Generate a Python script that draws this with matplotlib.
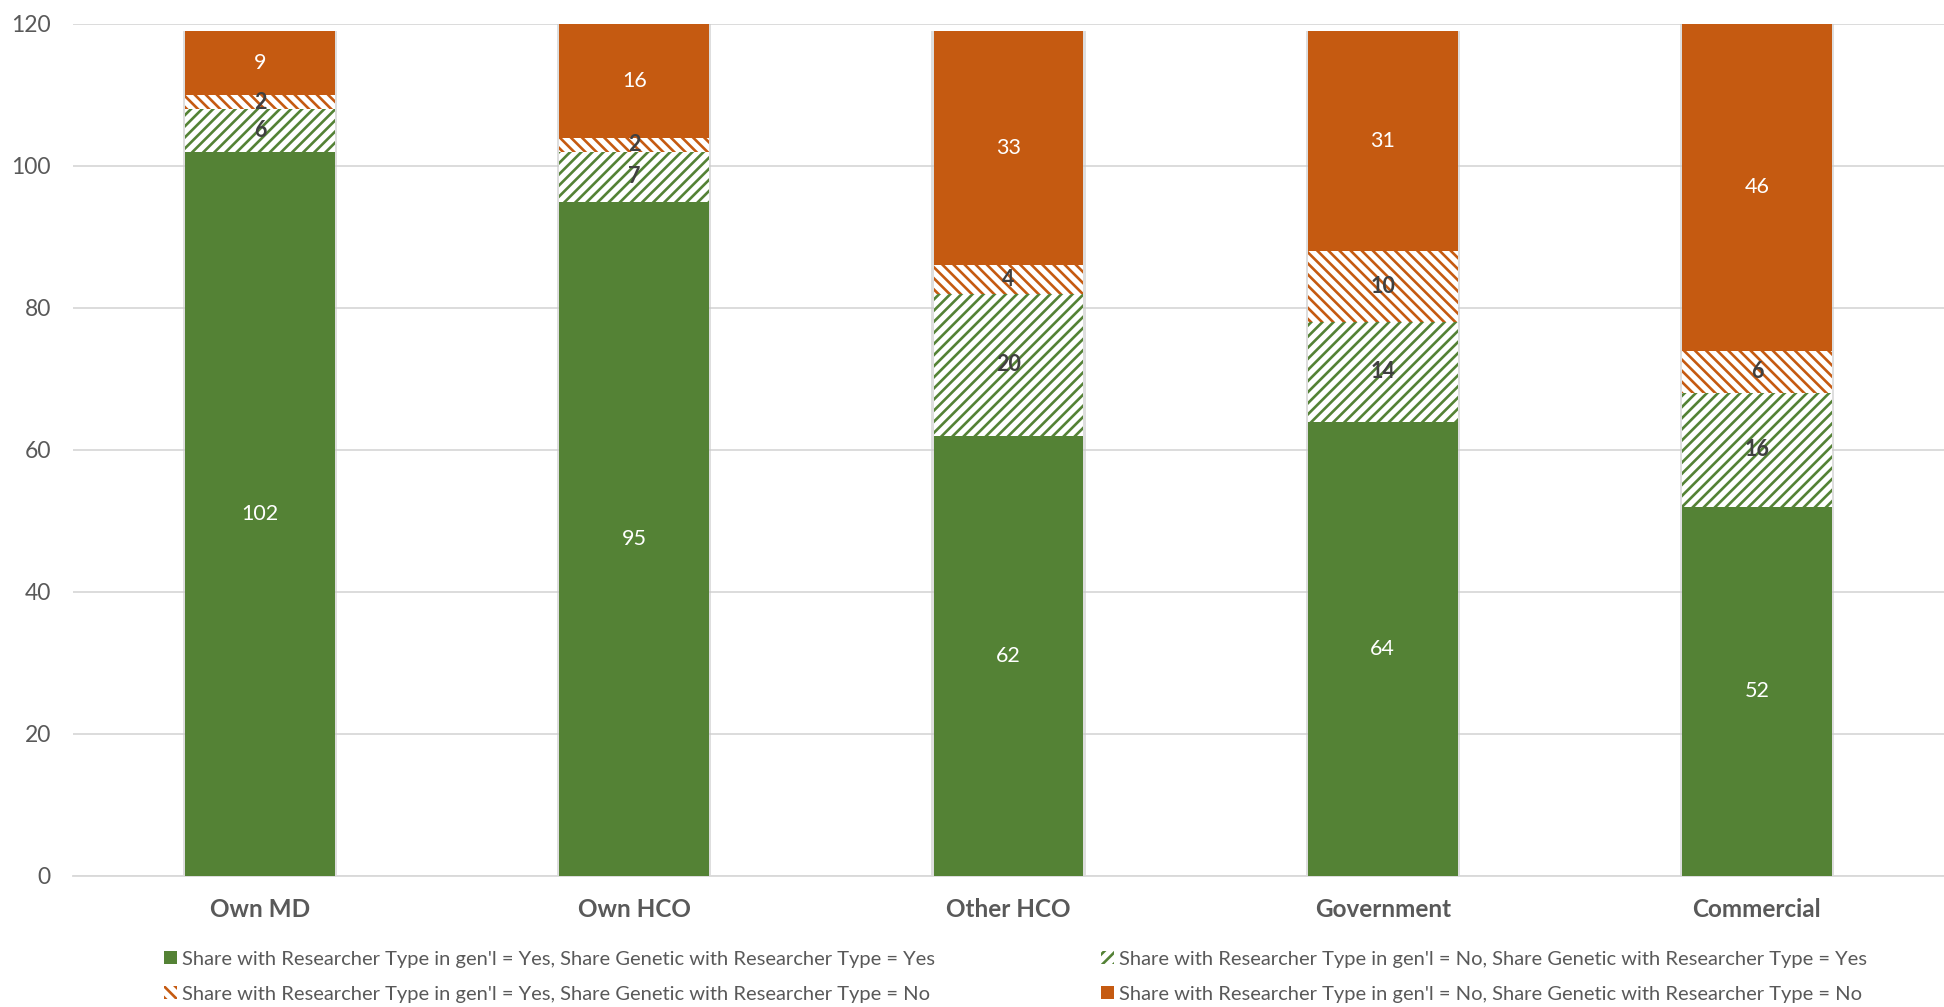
import numpy as np
import matplotlib
matplotlib.use("Agg")
import matplotlib.pyplot as plt
from matplotlib.patches import Patch

plt.rcParams['font.family'] = ['Lato', 'DejaVu Sans']
plt.rcParams['hatch.linewidth'] = 1.9

categories = ['Own MD', 'Own HCO', 'Other HCO', 'Government', 'Commercial']

# stacked from the bottom up
yes_yes = [102, 95, 62, 64, 52]
no_yes = [6, 7, 20, 14, 16]
yes_no = [2, 2, 4, 10, 6]
no_no = [9, 16, 33, 31, 46]

series_names = [
    "Share with Researcher Type in gen'l = Yes, Share Genetic with Researcher Type = Yes",
    "Share with Researcher Type in gen'l = No, Share Genetic with Researcher Type = Yes",
    "Share with Researcher Type in gen'l = Yes, Share Genetic with Researcher Type = No",
    "Share with Researcher Type in gen'l = No, Share Genetic with Researcher Type = No",
]

green = '#548235'
orange = '#C55A11'
text_gray = '#595959'

fig = plt.figure(figsize=(19.44, 10.07), dpi=100)
ax = fig.add_axes([73 / 1944, 1 - 876 / 1007, 1 - 73 / 1944, (876 - 24) / 1007])

x = np.arange(len(categories))
w = 0.4

series = [yes_yes, no_yes, yes_no, no_no]
styles = [
    dict(color=green, hatch=None),
    dict(color=green, hatch='///'),
    dict(color=orange, hatch='\\\\\\'),
    dict(color=orange, hatch=None),
]

totals = np.sum(series, axis=0)
# soft shadow behind each column
ax.bar(x, totals, width=w + 0.012, color='#c8c8c8', alpha=0.6, zorder=2, linewidth=0)

bottom = np.zeros(len(categories))
for vals, st in zip(series, styles):
    vals = np.array(vals)
    if st['hatch'] is None:
        ax.bar(x, vals, width=w, bottom=bottom, color=st['color'], linewidth=0, zorder=3)
        lab = dict(color='white', fontweight='normal')
    else:
        ax.bar(x, vals, width=w, bottom=bottom, facecolor='white', edgecolor=st['color'],
               hatch=st['hatch'], linewidth=0, zorder=3)
        lab = dict(color='#404040', fontweight='bold')
    for xi, b, v in zip(x, bottom, vals):
        ax.text(xi, b + v / 2, str(v), ha='center', va='center', fontsize=15.5, zorder=4, **lab)
    bottom += vals

ax.set_xlim(-0.5, 4.5)
ax.set_ylim(0, 120)
ax.set_yticks(range(0, 121, 20))
ax.yaxis.grid(True, color='#d9d9d9', linewidth=1.3)
ax.set_axisbelow(True)
for s in ['top', 'right', 'left']:
    ax.spines[s].set_visible(False)
ax.spines['bottom'].set_color('#d9d9d9')
ax.spines['bottom'].set_linewidth(1.3)
ax.tick_params(axis='y', length=0, labelsize=16.5, labelcolor=text_gray, pad=16)
ax.tick_params(axis='x', length=0, labelsize=17.5, labelcolor=text_gray, pad=16)
ax.set_xticks(x)
ax.set_xticklabels(categories, fontweight='bold')

handles = [
    Patch(facecolor=green, linewidth=0),
    Patch(facecolor='white', edgecolor=orange, hatch='\\\\\\', linewidth=0),
    Patch(facecolor='white', edgecolor=green, hatch='///', linewidth=0),
    Patch(facecolor=orange, linewidth=0),
]
labels = [series_names[0], series_names[2], series_names[1], series_names[3]]
leg = fig.legend(handles, labels, ncol=2, loc='upper left', bbox_to_anchor=(0.0844, 0.056),
                 frameon=False, fontsize=14.5, handlelength=0.65, handleheight=0.65,
                 handletextpad=0.25, columnspacing=8.25, labelspacing=0.9, borderpad=0,
                 borderaxespad=0)
for t in leg.get_texts():
    t.set_color(text_gray)

fig.savefig('out.png', dpi=100)
